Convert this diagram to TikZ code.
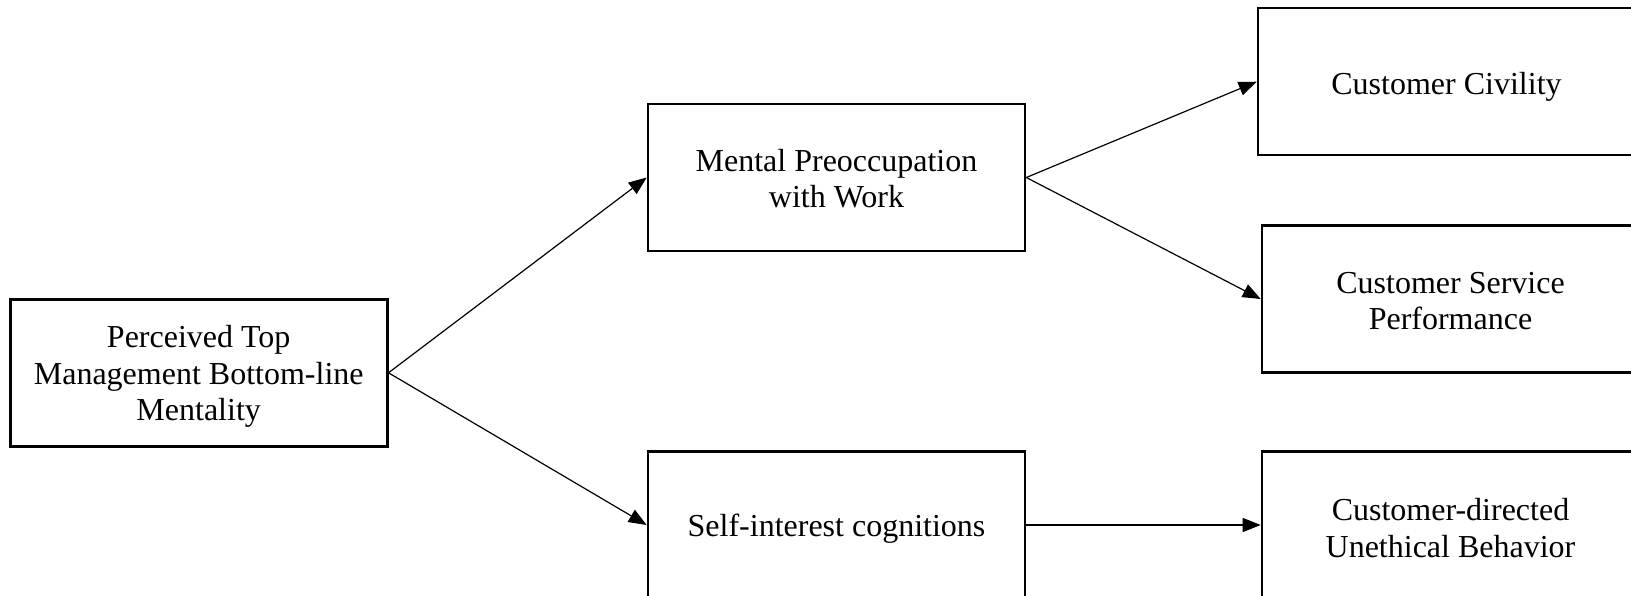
\documentclass[tikz,border=0pt]{standalone}
\usepackage{fontspec}
\setmainfont{Liberation Serif}
\usetikzlibrary{arrows.meta}
\begin{document}
\begin{tikzpicture}[x=1pt,y=-1pt,
  box/.style={draw, line width=2.6pt, minimum width=377pt, minimum height=147pt, inner sep=0pt},
  txt/.style={align=center, inner sep=0pt, font=\fontsize{32}{36.5}\selectfont},
  conn/.style={line width=1.2pt, -{Triangle[length=18pt,width=14pt]}}]
\useasboundingbox (0,0) rectangle (1631,596);
\node[box] (L) at (198.7,372.8) {};
\node[box] (M) at (836.5,177.5) {};
\node[box] (S) at (836.5,525) {};
\node[box] (CC) at (1446.5,81.7) {};
\node[box] (CSP) at (1450.5,299) {};
\node[box] (CUB) at (1450.5,525) {};
\node[txt] (Lt) at ([yshift=-4pt]L.center) {Perceived Top\\Management Bottom-line\\Mentality};
\node[txt] (Mt) at ([yshift=-1pt]M.center) {Mental Preoccupation\\with Work};
\node[txt] (St) at ([yshift=-4pt]S.center) {Self-interest cognitions};
\node[txt] (CCt) at ([yshift=-5pt]CC.center) {Customer Civility};
\node[txt] (CSPt) at ([yshift=-2pt]CSP.center) {Customer Service\\Performance};
\node[txt] (CUBt) at ([yshift=-3pt]CUB.center) {Customer-directed\\Unethical Behavior};
\draw[conn] (L.east) -- (M.west);
\draw[conn] (L.east) -- (S.west);
\draw[conn] (M.east) -- (CC.west);
\draw[conn] (M.east) -- (CSP.west);
\draw[conn] (S.east) -- (CUB.west);
\end{tikzpicture}
\end{document}
